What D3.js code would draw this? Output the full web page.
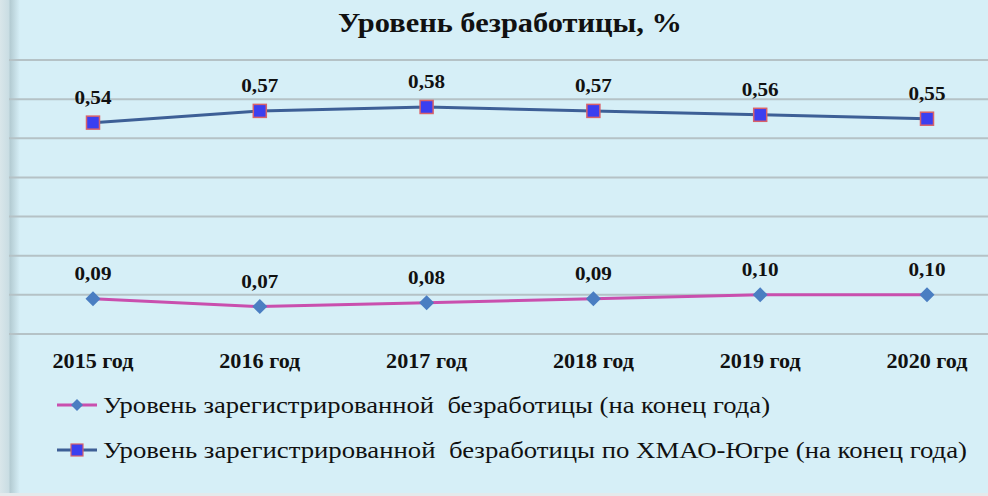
<!DOCTYPE html>
<html><head><meta charset="utf-8">
<script src="https://cdn.jsdelivr.net/npm/d3@7"></script>
<style>html,body{margin:0;padding:0;background:#fff;}svg{display:block;}</style>
</head><body>
<script>
const title = "Уровень безработицы, %";
const categories = ["2015 год","2016 год","2017 год","2018 год","2019 год","2020 год"];
const seriesNames = [
  "Уровень зарегистрированной  безработицы (на конец года)",
  "Уровень зарегистрированной  безработицы по ХМАО-Югре (на конец года)"
];
const registered = [0.09, 0.07, 0.08, 0.09, 0.10, 0.10];
const hmao = [0.54, 0.57, 0.58, 0.57, 0.56, 0.55];
const gridTicks = [0, 0.1, 0.2, 0.3, 0.4, 0.5, 0.6, 0.7];

const W = 988, H = 496;
const svg = d3.select("body").append("svg").attr("width", W).attr("height", H);
const defs = svg.append("defs");
const lg = defs.append("linearGradient").attr("id","edge").attr("x1","0").attr("x2","1").attr("y1","0").attr("y2","0");
lg.append("stop").attr("offset","0").attr("stop-color","#d9e6ea");
lg.append("stop").attr("offset","0.45").attr("stop-color","#c9dde3");
lg.append("stop").attr("offset","0.5").attr("stop-color","#b3cbd2");
lg.append("stop").attr("offset","1").attr("stop-color","#d6eff7");

svg.append("rect").attr("width", W).attr("height", H).attr("fill", "#d6eff7");
svg.append("rect").attr("x",0).attr("y",0).attr("width",20).attr("height",H).attr("fill","url(#edge)");
svg.append("rect").attr("x",0).attr("y",H-3).attr("width",W).attr("height",3).attr("fill","#e4eaec");

const x = d3.scalePoint().domain(categories).range([93, 927]);
const y = d3.scaleLinear().domain([0, 0.7]).range([334, 60]);

// gridlines
svg.append("g").selectAll("line").data(gridTicks).join("line")
  .attr("x1", 9).attr("x2", W)
  .attr("y1", d => y(d)).attr("y2", d => y(d))
  .attr("stroke", "#b5c2c6").attr("stroke-width", 2);

// title
svg.append("text").attr("x", 338).attr("y", 32)
  .attr("font-family", "'Liberation Serif','Times New Roman',serif")
  .attr("font-weight", "bold").attr("font-size", 28)
  .attr("textLength", 344).attr("lengthAdjust", "spacingAndGlyphs")
  .attr("fill", "#111").text(title);

// x labels
svg.append("g").selectAll("text").data(categories).join("text")
  .attr("x", d => x(d)).attr("y", 368).attr("text-anchor", "middle")
  .attr("font-family", "'Liberation Serif','Times New Roman',serif")
  .attr("font-weight", "bold").attr("font-size", 22)
  .attr("textLength", 81).attr("lengthAdjust", "spacingAndGlyphs")
  .attr("fill", "#111").text(d => d);

const line = d3.line().x((d, i) => x(categories[i])).y(d => y(d));

// registered series (pink with blue diamonds)
svg.append("path").datum(registered).attr("d", line)
  .attr("fill", "none").attr("stroke", "#c94fae").attr("stroke-width", 3);
svg.append("g").selectAll("path").data(registered).join("path")
  .attr("transform", (d, i) => `translate(${x(categories[i])},${y(d)})`)
  .attr("d", "M0,-7.5L7.5,0L0,7.5L-7.5,0Z").attr("fill", "#4a7ec2");

// hmao series (dark blue with squares)
svg.append("path").datum(hmao).attr("d", line)
  .attr("fill", "none").attr("stroke", "#3d5f96").attr("stroke-width", 3);
svg.append("g").selectAll("rect").data(hmao).join("rect")
  .attr("x", (d, i) => x(categories[i]) - 6.5).attr("y", d => y(d) - 6.5)
  .attr("width", 13).attr("height", 13)
  .attr("fill", "#3b3ff0").attr("stroke", "#d9626a").attr("stroke-width", 1.5);

const fmt = v => d3.format(".2f")(v).replace(".", ",");
function labels(data) {
  svg.append("g").selectAll("text").data(data).join("text")
    .attr("x", (d, i) => x(categories[i])).attr("y", d => y(d) - 19)
    .attr("text-anchor", "middle")
    .attr("font-family", "'Liberation Serif','Times New Roman',serif")
    .attr("font-weight", "bold").attr("font-size", 19)
    .attr("textLength", 37).attr("lengthAdjust", "spacingAndGlyphs")
    .attr("fill", "#111").text(d => fmt(d));
}
labels(hmao);
labels(registered);

// legend
const lgY = [405, 450];
const legLens = [667, 864];
const leg = svg.append("g");
leg.append("line").attr("x1", 57).attr("x2", 97).attr("y1", lgY[0]).attr("y2", lgY[0])
  .attr("stroke", "#c94fae").attr("stroke-width", 3);
leg.append("path").attr("transform", `translate(77,${lgY[0]})`)
  .attr("d", "M0,-6L6,0L0,6L-6,0Z").attr("fill", "#4a7ec2");
leg.append("line").attr("x1", 57).attr("x2", 97).attr("y1", lgY[1]).attr("y2", lgY[1])
  .attr("stroke", "#3d5f96").attr("stroke-width", 3);
leg.append("rect").attr("x", 71).attr("y", lgY[1] - 6).attr("width", 12).attr("height", 12)
  .attr("fill", "#3b3ff0").attr("stroke", "#d9626a").attr("stroke-width", 1.2);
leg.selectAll("text.l").data(seriesNames).join("text").attr("class","l")
  .attr("x", 103).attr("y", (d, i) => lgY[i] + 8)
  .attr("xml:space", "preserve").style("white-space", "pre")
  .attr("font-family", "'Liberation Serif','Times New Roman',serif")
  .attr("font-size", 23)
  .attr("textLength", (d, i) => legLens[i]).attr("lengthAdjust", "spacingAndGlyphs")
  .attr("fill", "#111").text(d => d);
</script>
</body></html>
